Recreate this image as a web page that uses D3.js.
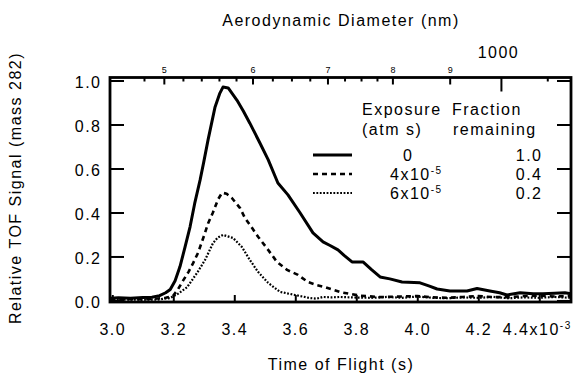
<!DOCTYPE html>
<html><head><meta charset="utf-8">
<script src="https://cdn.jsdelivr.net/npm/d3@7"></script>
<style>
body{margin:0;background:#fff}
svg{display:block}
text{font-family:"Liberation Sans",Arial,Helvetica,sans-serif;fill:#000}
</style>
</head><body>
<svg id="c" width="573" height="373"></svg>
<script>
// ---- data (time of flight in units of 1e-3 s, relative signal) ----
const tofSolid = [2.993,3.02,3.06,3.10,3.13,3.155,3.175,3.19,3.206,3.222,3.238,3.255,3.270,3.288,3.300,3.314,3.337,3.352,3.363,3.380,3.409,3.430,3.451,3.484,3.511,3.543,3.576,3.615,3.658,3.691,3.714,3.740,3.76,3.786,3.822,3.85,3.878,3.910,3.950,4.009,4.04,4.065,4.107,4.163,4.196,4.238,4.27,4.294,4.337,4.38,4.412,4.45,4.484,4.504];
const sigSolid = [0.010,0.012,0.010,0.013,0.015,0.022,0.035,0.05,0.09,0.154,0.24,0.335,0.44,0.548,0.63,0.73,0.88,0.94,0.97,0.966,0.91,0.86,0.806,0.716,0.64,0.534,0.48,0.40,0.307,0.266,0.25,0.23,0.205,0.175,0.175,0.14,0.107,0.098,0.084,0.08,0.065,0.052,0.043,0.043,0.054,0.043,0.035,0.025,0.035,0.03,0.03,0.033,0.035,0.03];

const tofDash = [2.993,3.05,3.10,3.14,3.175,3.199,3.215,3.232,3.250,3.265,3.281,3.304,3.314,3.330,3.347,3.360,3.375,3.392,3.419,3.435,3.458,3.478,3.511,3.540,3.573,3.609,3.641,3.670,3.697,3.725,3.750,3.78,3.811,3.877,3.95,4.00,4.05,4.10,4.15,4.20,4.25,4.30,4.35,4.40,4.45,4.504];
const sigDash = [0.005,0.006,0.005,0.008,0.012,0.02,0.05,0.09,0.13,0.17,0.216,0.307,0.35,0.40,0.46,0.49,0.485,0.466,0.42,0.375,0.33,0.29,0.23,0.175,0.139,0.116,0.084,0.07,0.061,0.048,0.037,0.03,0.022,0.015,0.018,0.02,0.014,0.012,0.016,0.02,0.015,0.015,0.02,0.022,0.018,0.02];

const tofDot = [2.993,3.05,3.10,3.15,3.189,3.215,3.245,3.278,3.304,3.330,3.345,3.363,3.396,3.425,3.451,3.478,3.511,3.550,3.599,3.648,3.670,3.691,3.72,3.746,3.80,3.85,3.90,3.95,4.00,4.05,4.10,4.15,4.20,4.25,4.30,4.35,4.40,4.45,4.504];
const sigDot = [0.003,0.004,0.003,0.004,0.011,0.03,0.06,0.125,0.184,0.26,0.285,0.298,0.284,0.243,0.184,0.13,0.08,0.039,0.025,0.011,0.008,0.016,0.014,0.016,0.013,0.012,0.016,0.012,0.018,0.012,0.010,0.014,0.012,0.016,0.010,0.014,0.012,0.016,0.012];

const tofTicks = [3.0,3.2,3.4,3.6,3.8,4.0,4.2,4.4];
const sigTicks = [0,0.2,0.4,0.6,0.8,1.0];
const diamLabelled = [500,600,700,800,900];
const diamLabels = ["5","6","7","8","9"];
const diamMajor = [1000];
const diamMinor = [480,520,540,560,580,625,650,675,725,750,775,1100];

const legendExposure = ["0","4x10","6x10"];
const legendExpSup = ["","-5","-5"];
const legendFraction = ["1.0","0.4","0.2"];
const seriesStyle = ["solid","dash","dot"];

// ---- layout ----
const L=110, R=571, T=77.5, B=302;
const svg = d3.select("#c");
const x = d3.scaleLinear().domain([2.9925,4.504]).range([L,R]);
const y = d3.scaleLinear().domain([-0.007,1.0136]).range([B,T]);
const xd = d3.scaleLog().domain([447.6,1155]).range([L,R]);

const font = "16px";
const ls = "1.5px";

// clip
svg.append("defs").append("clipPath").attr("id","pc")
  .append("rect").attr("x",L).attr("y",T).attr("width",R-L).attr("height",B-T);

// curves
const styles = {
  solid:{w:3, dash:null},
  dash:{w:2.6, dash:"5,4"},
  dot:{w:2.2, dash:"1.8,1.6"}
};
const series = [
  {k:"solid", t:tofSolid, v:sigSolid},
  {k:"dash", t:tofDash, v:sigDash},
  {k:"dot", t:tofDot, v:sigDot}
];
const line = d3.line().x(d=>x(d[0])).y(d=>y(d[1]));
const g = svg.append("g").attr("clip-path","url(#pc)");
series.forEach(s=>{
  const pts = s.t.map((t,i)=>[t,s.v[i]]);
  g.append("path").attr("d",line(pts)).attr("fill","none").attr("stroke","#000")
   .attr("stroke-width",styles[s.k].w).attr("stroke-dasharray",styles[s.k].dash)
   .attr("stroke-linejoin","round");
});

// axes
function styleAxis(sel){
  sel.select(".domain").remove();
  sel.selectAll(".tick line").attr("stroke","#000").attr("stroke-width",2);
}
const ax = svg.append("g").attr("transform",`translate(0,${B})`)
  .call(d3.axisBottom(x).tickValues(tofTicks).tickSize(-7).tickPadding(21.6)
  .tickFormat(d=>d3.format(".1f")(d)));
styleAxis(ax);
ax.selectAll("text").style("font-size",font).style("letter-spacing",ls);
ax.selectAll(".tick").filter(d=>d===4.4).select("text")
  .attr("text-anchor","start").attr("x",-37)
  .call(t=>{t.text("4.4x10"); t.append("tspan").attr("dy","-0.6em").style("font-size","10px").text("-3");});

const ay = svg.append("g").attr("transform",`translate(${L},0)`)
  .call(d3.axisLeft(y).tickValues(sigTicks).tickSize(-14).tickPadding(8.5).tickFormat(d3.format(".1f")));
styleAxis(ay);
ay.selectAll("text").style("font-size",font).style("letter-spacing",ls).attr("dy","0.44em");

const ar = svg.append("g").attr("transform",`translate(${R},0)`)
  .call(d3.axisRight(y).tickValues(sigTicks).tickSize(-14).tickFormat(""));
styleAxis(ar);

const at1 = svg.append("g").attr("transform",`translate(0,${T})`)
  .call(d3.axisTop(xd).tickValues(diamLabelled).tickSize(-7).tickPadding(4.5)
  .tickFormat((d,i)=>diamLabels[i]));
styleAxis(at1);
at1.selectAll("text").style("font-size","9px");

const at2 = svg.append("g").attr("transform",`translate(0,${T})`)
  .call(d3.axisTop(xd).tickValues(diamMajor).tickSize(-14).tickPadding(20).tickFormat(d3.format("d")));
styleAxis(at2);
at2.selectAll("text").style("font-size",font).style("letter-spacing",ls).attr("x",-3);

const at3 = svg.append("g").attr("transform",`translate(0,${T})`)
  .call(d3.axisTop(xd).tickValues(diamMinor).tickSize(-4).tickFormat(""));
styleAxis(at3);

// frame
svg.append("rect").attr("x",L).attr("y",T).attr("width",R-L).attr("height",B-T)
  .attr("fill","none").attr("stroke","#000").attr("stroke-width",2.8);

// titles
svg.append("text").attr("x",341).attr("y",26).attr("text-anchor","middle")
  .style("font-size",font).style("letter-spacing",ls).text("Aerodynamic Diameter (nm)");
svg.append("text").attr("x",341).attr("y",370).attr("text-anchor","middle")
  .style("font-size",font).style("letter-spacing",ls).text("Time of Flight (s)");
svg.append("text").attr("transform","translate(21,188) rotate(-90)").attr("text-anchor","middle")
  .style("font-size",font).style("letter-spacing",ls).text("Relative TOF Signal (mass 282)");

// legend
const lg = svg.append("g");
const lt = (xx,yy,txt,anchor)=>lg.append("text").attr("x",xx).attr("y",yy)
  .attr("text-anchor",anchor||"start").style("font-size",font).style("letter-spacing",ls).text(txt);
lt(362,115,"Exposure"); lt(452,115,"Fraction");
lt(362,135,"(atm s)"); lt(453,135,"remaining");
const rowY = [155,174,193];
seriesStyle.forEach((k,i)=>{
  lg.append("line").attr("x1",313).attr("x2",352).attr("y1",rowY[i]).attr("y2",rowY[i])
    .attr("stroke","#000").attr("stroke-width",styles[k].w).attr("stroke-dasharray",styles[k].dash);
  const tx = lt(i===0?403:390, rowY[i]+6, legendExposure[i]);
  if(legendExpSup[i]) tx.append("tspan").attr("dy","-0.6em").style("font-size","10px").text(legendExpSup[i]);
  lt(542.5, rowY[i]+6, legendFraction[i], "end");
});
</script>
</body></html>
